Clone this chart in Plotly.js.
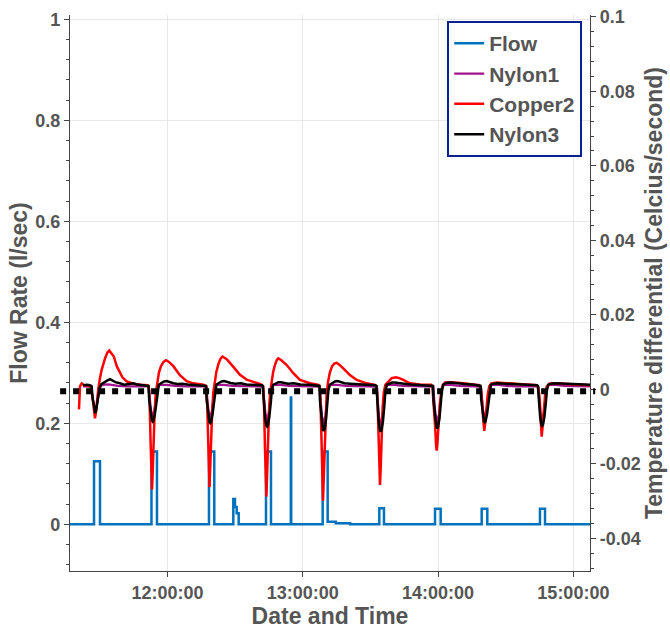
<!DOCTYPE html>
<html>
<head>
<meta charset="utf-8">
<script src="https://cdn.plot.ly/plotly-3.0.1.min.js"></script>
<style>html,body{margin:0;padding:0;background:#fff;}#chart{width:670px;height:631px;}</style>
</head>
<body>
<div id="chart"></div>
<script>
// Times are minutes after 11:00:00 on the logging day
const DAY = '2021-03-10';

const flowT = [16.0, 27.41, 30.07, 52.9, 55.34, 78.4, 80.75, 89.18, 89.93, 90.69, 91.57, 103.68, 105.9, 114.7, 114.85, 128.82, 131.04, 134.6, 141.0, 153.93, 156.0, 178.63, 181.15, 199.34, 201.82, 225.19, 227.41, 248.0];
const flowV = [0, 0.125, 0, 0.144, 0, 0.144, 0, 0.05, 0.034, 0.022, 0, 0.144, 0, 0.251, 0, 0.144, 0.005, 0.002, 0, 0.032, 0, 0.031, 0, 0.031, 0, 0.031, 0, 0];

const nylon1T = [22.5, 25.5,
  26.25, 26.65, 27.2, 27.95, 28.75, 29.45, 29.95, 30.95, 33.9, 38.0, 42.0, 51.5,
  51.75, 52.15, 52.7, 53.45, 54.25, 54.95, 55.45, 56.45, 59.45, 63.5, 68.0, 77.0,
  77.25, 77.65, 78.2, 78.95, 79.75, 80.45, 80.95, 81.95, 84.95, 89.0, 94.0, 102.2,
  102.45, 102.85, 103.4, 104.15, 104.95, 105.65, 106.15, 107.15, 110.15, 114.0, 119.0, 127.3,
  127.55, 127.95, 128.5, 129.25, 130.05, 130.75, 131.25, 132.25, 135.25, 139.0, 144.0, 152.6,
  152.85, 153.25, 153.8, 154.55, 155.35, 156.05, 156.55, 157.55, 160.55, 164.5, 170.0, 177.5,
  177.9, 178.3, 178.85, 179.6, 180.4, 181.1, 181.6, 182.6, 185.6, 189.5, 194.0, 198.6,
  199.0, 199.4, 199.95, 200.7, 201.5, 202.2, 202.7, 203.7, 206.7, 210.5, 215.0, 224.0,
  224.45, 224.85, 225.4, 226.15, 226.95, 227.65, 228.15, 229.15, 232.15, 236.0, 241.0, 247.6];
const nylon1V = [0.0008, 0.0008,
  0.0007, -0.0018, -0.0040, -0.0054, -0.0040, -0.0016, 0.0003, 0.0012, 0.0013, 0.0009, 0.0008, 0.0008,
  0.0007, -0.0025, -0.0056, -0.0074, -0.0056, -0.0022, 0.0003, 0.0012, 0.0012, 0.0009, 0.0008, 0.0008,
  0.0007, -0.0026, -0.0058, -0.0077, -0.0058, -0.0023, 0.0003, 0.0012, 0.0012, 0.0009, 0.0008, 0.0008,
  0.0007, -0.0028, -0.0064, -0.0085, -0.0064, -0.0025, 0.0003, 0.0012, 0.0012, 0.0009, 0.0008, 0.0008,
  0.0007, -0.0031, -0.0071, -0.0095, -0.0071, -0.0028, 0.0003, 0.0012, 0.0012, 0.0009, 0.0008, 0.0008,
  0.0007, -0.0032, -0.0073, -0.0097, -0.0073, -0.0029, 0.0003, 0.0012, 0.0012, 0.0009, 0.0008, 0.0008,
  0.0007, -0.0029, -0.0067, -0.0089, -0.0067, -0.0027, 0.0003, 0.0012, 0.0012, 0.0009, 0.0008, 0.0008,
  0.0007, -0.0025, -0.0057, -0.0076, -0.0057, -0.0023, 0.0003, 0.0012, 0.0012, 0.0009, 0.0008, 0.0008,
  0.0007, -0.0027, -0.0062, -0.0083, -0.0062, -0.0025, 0.0003, 0.0012, 0.0012, 0.0009, 0.0008, 0.0008];

const copper2T = [20.75, 21.2, 21.95, 23.0, 25.0, 26.1, 26.9, 27.4, 27.85, 28.3, 28.8, 29.3, 30.0, 30.8, 32.3, 33.3, 34.2, 35.2, 36.2, 37.5, 38.9, 40.0, 41.9, 44.8, 48.0, 51.2,
  51.7, 52.1, 52.5, 52.85, 53.13, 53.45, 53.85, 54.3, 54.8, 55.4, 56.2, 57.1, 58.2, 59.3, 60.5, 62.6, 65.5, 68.5, 71.4, 75.9,
  77.2, 77.6, 78.0, 78.35, 78.63, 78.95, 79.35, 79.8, 80.3, 80.9, 81.7, 82.7, 83.6, 84.4, 86.25, 89.2, 92.15, 95.1, 99.6, 101.5,
  102.4, 102.8, 103.2, 103.55, 103.85, 104.17, 104.57, 105.0, 105.5, 106.1, 106.9, 107.8, 108.5, 109.14, 110.5, 112.86, 115.8, 118.76, 123.2, 127.0,
  127.5, 127.9, 128.3, 128.65, 128.96, 129.28, 129.68, 130.1, 130.6, 131.2, 132.0, 133.0, 134.0, 135.0, 136.2, 137.96, 140.9, 143.9, 148.3, 152.0,
  152.8, 153.2, 153.6, 153.95, 154.24, 154.56, 154.96, 155.4, 155.9, 156.6, 157.9, 159.4, 161.3, 162.8, 164.6, 167.5, 172.0, 177.0,
  177.5, 178.1, 178.7, 179.1, 179.38, 179.7, 180.2, 180.8, 181.4, 182.1, 183.1, 186.0, 190.0, 194.0, 197.8,
  198.3, 198.9, 199.5, 200.0, 200.49, 200.9, 201.4, 202.0, 202.7, 203.6, 206.0, 212.0, 220.8, 223.9,
  224.5, 225.1, 225.5, 225.94, 226.35, 226.85, 227.45, 228.2, 229.3, 231.1, 236.0, 241.0, 245.9, 247.6];
const copper2V = [-0.0054, 0.0008, 0.0016, 0.0011, 0.0010, 0.0004, -0.0030, -0.0062, -0.0078, -0.0060, -0.0025, 0.0000, 0.0028, 0.0052, 0.0083, 0.0098, 0.0104, 0.0097, 0.0088, 0.0062, 0.0045, 0.0032, 0.0021, 0.0015, 0.0012, 0.0011,
  0.0008, -0.004, -0.014, -0.023, -0.027, -0.022, -0.013, -0.006, -0.001, 0.002, 0.0045, 0.0062, 0.0073, 0.0078, 0.0074, 0.0062, 0.0038, 0.0022, 0.0016, 0.0012,
  0.0008, -0.004, -0.014, -0.022, -0.0263, -0.021, -0.013, -0.006, -0.001, 0.002, 0.0048, 0.0070, 0.0083, 0.0088, 0.0081, 0.0060, 0.0039, 0.0026, 0.0017, 0.0013,
  0.0008, -0.004, -0.015, -0.024, -0.0288, -0.023, -0.014, -0.006, -0.001, 0.002, 0.0048, 0.0068, 0.0079, 0.0083, 0.0078, 0.0065, 0.0043, 0.0025, 0.0016, 0.0012,
  0.0008, -0.004, -0.015, -0.025, -0.0299, -0.024, -0.015, -0.007, -0.001, 0.002, 0.0045, 0.0062, 0.0069, 0.0071, 0.0066, 0.0056, 0.0038, 0.0025, 0.0016, 0.0012,
  0.0008, -0.004, -0.014, -0.022, -0.0257, -0.021, -0.012, -0.005, -0.001, 0.0012, 0.0020, 0.0030, 0.0032, 0.0030, 0.0025, 0.0016, 0.0013, 0.0012,
  0.0005, -0.004, -0.010, -0.015, -0.0165, -0.0145, -0.009, -0.004, -0.001, 0.0012, 0.0018, 0.0019, 0.0017, 0.0015, 0.0013,
  0.0011, 0.0004, -0.003, -0.008, -0.0112, -0.009, -0.005, -0.0015, 0.0008, 0.0016, 0.0018, 0.0016, 0.0014, 0.0011,
  0.0004, -0.003, -0.008, -0.0127, -0.010, -0.0055, -0.0015, 0.0008, 0.0015, 0.0016, 0.0015, 0.0014, 0.0012, 0.0011];

const nylon3T = [22.5, 24.5, 25.8, 26.35, 26.75, 27.3, 27.6, 27.95, 28.3, 28.8, 29.3, 29.9, 30.6, 32.0, 33.2, 34.5, 35.6, 36.9, 38.9, 40.8, 43.0, 44.8, 46.5, 49.5,
  51.55, 51.9, 52.55, 53.1, 53.45, 53.8, 54.45, 55.15, 55.55, 56.15, 57.3, 58.5, 59.6, 61.0, 62.6, 64.5, 66.5, 69.0, 73.0, 76.5,
  77.05, 77.4, 78.05, 78.6, 78.95, 79.3, 79.95, 80.65, 81.05, 81.65, 82.8, 84.0, 85.1, 86.5, 88.0, 90.0, 92.5, 95.0, 99.0, 101.9,
  102.25, 102.6, 103.25, 103.8, 104.15, 104.5, 105.15, 105.85, 106.25, 106.85, 108.0, 109.2, 110.3, 111.8, 113.5, 116.0, 119.0, 123.0, 127.0,
  127.35, 127.7, 128.35, 128.9, 129.25, 129.6, 130.25, 130.95, 131.35, 131.95, 133.1, 134.3, 135.4, 136.8, 138.5, 141.0, 144.0, 148.0, 152.2,
  152.65, 153.0, 153.65, 154.2, 154.55, 154.9, 155.55, 156.25, 156.65, 157.25, 158.4, 159.6, 160.7, 162.5, 165.0, 168.0, 172.0, 177.3,
  177.7, 178.05, 178.7, 179.25, 179.6, 179.95, 180.6, 181.3, 181.7, 182.3, 183.5, 185.5, 188.0, 192.0, 196.0, 198.3,
  198.8, 199.15, 199.8, 200.35, 200.7, 201.05, 201.7, 202.4, 202.8, 203.4, 204.6, 206.5, 210.0, 215.0, 220.0, 223.8,
  224.25, 224.6, 225.25, 225.8, 226.15, 226.5, 227.15, 227.85, 228.25, 228.85, 230.0, 232.0, 236.0, 241.0, 245.0, 247.6];
const nylon3V = [0.0011, 0.0012, 0.0010, 0.0008, -0.0021, -0.0048, -0.0061, -0.0064, -0.0058, -0.0040, -0.0015, 0.0004, 0.0013, 0.0019, 0.0023, 0.0027, 0.0023, 0.0019, 0.0016, 0.0012, 0.0014, 0.0016, 0.0013, 0.0011,
  0.0009, -0.0029, -0.0065, -0.0084, -0.0087, -0.0084, -0.0065, -0.0029, -0.0003, 0.0012, 0.0017, 0.0021, 0.0022, 0.0019, 0.0016, 0.0014, 0.0015, 0.0013, 0.0012, 0.0011,
  0.0009, -0.0030, -0.0068, -0.0088, -0.0091, -0.0088, -0.0068, -0.0030, -0.0003, 0.0012, 0.0017, 0.0021, 0.0022, 0.0019, 0.0017, 0.0015, 0.0016, 0.0013, 0.0012, 0.0011,
  0.0009, -0.0033, -0.0075, -0.0097, -0.0100, -0.0097, -0.0075, -0.0033, -0.0003, 0.0012, 0.0016, 0.0019, 0.0019, 0.0017, 0.0015, 0.0016, 0.0013, 0.0012, 0.0011,
  0.0009, -0.0037, -0.0084, -0.0108, -0.0112, -0.0108, -0.0084, -0.0037, -0.0003, 0.0012, 0.0017, 0.0021, 0.0022, 0.0019, 0.0016, 0.0015, 0.0014, 0.0012, 0.0011,
  0.0009, -0.0038, -0.0086, -0.0110, -0.0114, -0.0110, -0.0086, -0.0038, -0.0003, 0.0012, 0.0016, 0.0018, 0.0018, 0.0016, 0.0015, 0.0013, 0.0012, 0.0011,
  0.0009, -0.0035, -0.0079, -0.0101, -0.0105, -0.0101, -0.0079, -0.0035, -0.0003, 0.0012, 0.0017, 0.0018, 0.0016, 0.0014, 0.0012, 0.0011,
  0.0009, -0.0029, -0.0067, -0.0086, -0.0089, -0.0086, -0.0067, -0.0029, -0.0003, 0.0012, 0.0015, 0.0016, 0.0015, 0.0014, 0.0012, 0.0011,
  0.0009, -0.0032, -0.0074, -0.0095, -0.0098, -0.0095, -0.0074, -0.0032, -0.0003, 0.0012, 0.0015, 0.0016, 0.0015, 0.0014, 0.0013, 0.0012];

const THRESHOLD = -0.0005;           // dotted reference line (Celcius/second)
const xRangeMin = [16.77, 247.37];    // visible time window, minutes after 11:00
const y2TickVals = [-0.04, -0.02, 0, 0.02, 0.04, 0.06, 0.08, 0.1];
const y2TickText = ['-0.04', '-0.02', '0', '0.02', '0.04', '0.06', '0.08', '0.1'];

function pad(n){ return (n < 10 ? '0' : '') + n; }
function stamp(m){
  const s = Math.round(m * 60);
  const h = 11 + Math.floor(s / 3600);
  const mi = Math.floor((s % 3600) / 60);
  const se = s % 60;
  return DAY + ' ' + pad(h) + ':' + pad(mi) + ':' + pad(se);
}

const FONT = 'Liberation Sans, Arial, Helvetica, sans-serif';
const GREY = '#555555';

const traces = [
  {name: 'Flow', x: flowT.map(stamp), y: flowV, type: 'scatter', mode: 'lines', yaxis: 'y',
   line: {color: '#0072BD', width: 2.5, shape: 'hv'}},
  {name: 'Nylon1', x: nylon1T.map(stamp), y: nylon1V, type: 'scatter', mode: 'lines', yaxis: 'y2',
   line: {color: '#A2148C', width: 2.2}},
  {name: 'Copper2', x: copper2T.map(stamp), y: copper2V, type: 'scatter', mode: 'lines', yaxis: 'y2',
   line: {color: '#FF0000', width: 2.5}},
  {name: 'Nylon3', x: nylon3T.map(stamp), y: nylon3V, type: 'scatter', mode: 'lines', yaxis: 'y2',
   line: {color: '#000000', width: 2.5}}
];

const layout = {
  width: 670, height: 631,
  margin: {l: 70, r: 80, t: 15, b: 60, pad: 0},
  paper_bgcolor: '#ffffff', plot_bgcolor: '#ffffff',
  font: {family: FONT, color: GREY, size: 18, weight: 'bold'},
  showlegend: true,
  legend: {
    x: 0.985, xanchor: 'right', y: 0.989, yanchor: 'top',
    bgcolor: '#ffffff', bordercolor: '#0A2290', borderwidth: 2,
    font: {family: FONT, size: 21, color: GREY, weight: 'bold'},
    itemwidth: 30, tracegroupgap: 0
  },
  xaxis: {
    type: 'date',
    range: [stamp(xRangeMin[0]), stamp(xRangeMin[1])],
    tickformat: '%H:%M:%S',
    tick0: DAY + ' 12:00:00', dtick: 3600000,
    showgrid: true, gridcolor: '#e8e8e8', gridwidth: 1,
    showline: true, linecolor: '#444', linewidth: 1.2,
    ticks: 'outside', ticklen: 5, tickcolor: '#444',
    zeroline: false,
    tickfont: {family: FONT, size: 18, color: GREY, weight: 'bold'},
    title: {text: 'Date and Time', standoff: 5, font: {family: FONT, size: 23, color: GREY, weight: 'bold'}},
    automargin: false
  },
  yaxis: {
    range: [-0.0925, 1.0085],
    tick0: 0, dtick: 0.2,
    showgrid: true, gridcolor: '#e8e8e8', gridwidth: 1,
    zeroline: false,
    showline: true, linecolor: '#444', linewidth: 1.2,
    ticks: 'outside', ticklen: 5, tickcolor: '#444',
    minor: {dtick: 0.04, tick0: 0, ticks: 'outside', ticklen: 3, tickcolor: '#444', showgrid: false},
    tickfont: {family: FONT, size: 18, color: GREY, weight: 'bold'},
    title: {text: 'Flow Rate (l/sec)', standoff: 1, font: {family: FONT, size: 23, color: GREY, weight: 'bold'}},
    automargin: false
  },
  yaxis2: {
    overlaying: 'y', side: 'right',
    range: [-0.0488, 0.1005],
    tickmode: 'array', tickvals: y2TickVals, ticktext: y2TickText,
    showgrid: false, zeroline: false,
    showline: true, linecolor: '#444', linewidth: 1.2,
    ticks: 'outside', ticklen: 5, tickcolor: '#444',
    minor: {tickmode: 'linear', dtick: 0.004, tick0: 0, ticks: 'outside', ticklen: 3, tickcolor: '#444', showgrid: false},
    tickfont: {family: FONT, size: 18, color: GREY, weight: 'bold'},
    title: {text: 'Temperature differential (Celcius/second)', standoff: 4, font: {family: FONT, size: 23, color: GREY, weight: 'bold'}},
    automargin: false
  },
  shapes: [{
    type: 'line', xref: 'paper', yref: 'y2',
    x0: -0.019, x1: 1.01, y0: THRESHOLD, y1: THRESHOLD,
    line: {color: '#000000', width: 6, dash: '6px,7px'}
  }]
};

Plotly.newPlot('chart', traces, layout, {staticPlot: true, displayModeBar: false});
</script>
</body>
</html>
